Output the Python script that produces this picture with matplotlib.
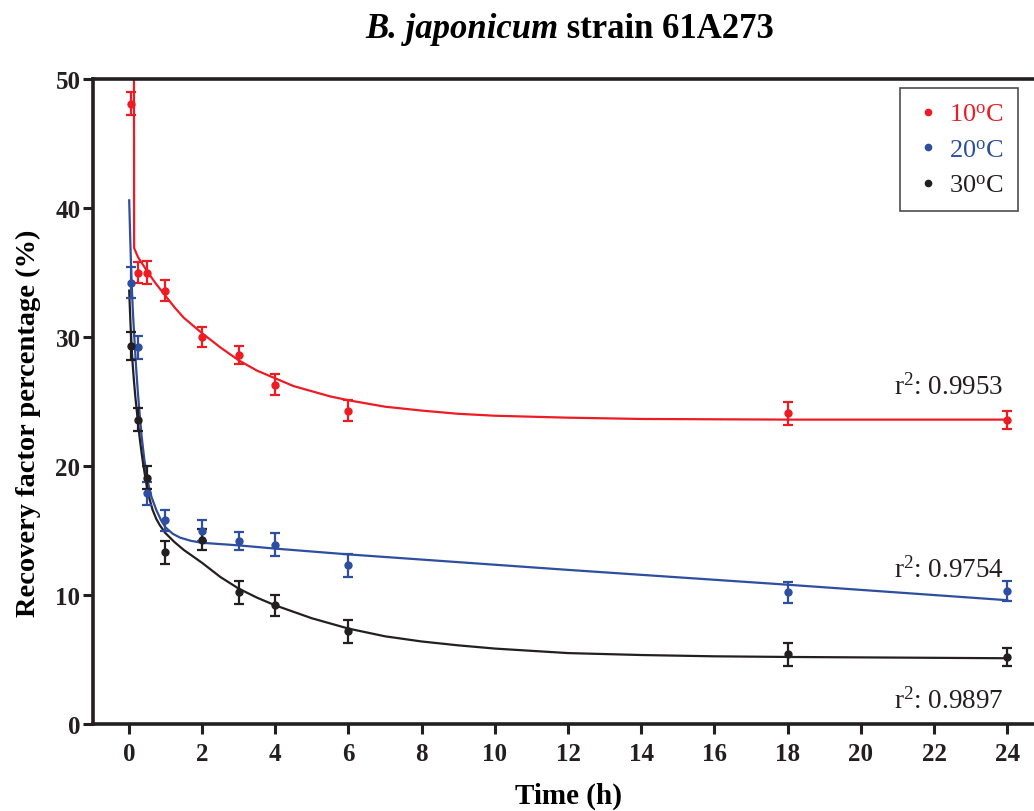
import matplotlib

matplotlib.use("Agg")
import matplotlib.pyplot as plt
from matplotlib.lines import Line2D

RED = "#ed1c24"
BLUE = "#2e4ea0"
BLACK = "#231f20"
SERIF = "Liberation Serif"

plt.rcParams["mathtext.fontset"] = "custom"
plt.rcParams["mathtext.rm"] = SERIF
plt.rcParams["mathtext.it"] = SERIF + ":italic"
plt.rcParams["mathtext.bf"] = SERIF + ":bold"

# measured points (h, %)
time = [0.05, 0.25, 0.5, 1, 2, 3, 4, 6, 18, 24]
y10 = [48.1, 35.0, 35.0, 33.6, 30.0, 28.6, 26.3, 24.3, 24.1, 23.6]
e10 = [0.9, 0.8, 0.9, 0.8, 0.8, 0.7, 0.8, 0.8, 0.9, 0.7]
y20 = [34.2, 29.2, 17.9, 15.8, 15.0, 14.2, 13.9, 12.3, 10.2, 10.3]
e20 = [1.2, 0.9, 0.9, 0.8, 0.8, 0.7, 0.9, 0.9, 0.8, 0.8]
y30 = [29.3, 23.6, 19.1, 13.3, 14.3, 10.2, 9.2, 7.2, 5.4, 5.2]
e30 = [1.1, 0.9, 0.9, 0.9, 0.8, 0.9, 0.8, 0.9, 0.9, 0.7]

# fitted curves
fit10_t = [0.14, 0.145, 0.25, 0.5, 0.75, 1, 1.25, 1.5, 1.75, 2, 2.5, 3, 3.5, 4, 4.5, 5,
           5.5, 6, 7, 8, 9, 10, 12, 14, 18, 24]
fit10_y = [52, 36.9, 36.2, 35.1, 34.1, 33.2, 32.3, 31.5, 30.9, 30.3, 29.2, 28.2, 27.4, 26.8,
           26.2, 25.8, 25.4, 25.1, 24.6, 24.3, 24.05, 23.9, 23.75, 23.65, 23.6, 23.6]
fit20_t = [0.01, 0.04, 0.07, 0.11, 0.16, 0.2, 0.25, 0.3, 0.35, 0.42, 0.5, 0.62, 0.75, 0.88,
           1.0, 1.2, 1.4, 1.7, 2, 2.5, 3, 4, 6, 8, 12, 18, 24]
fit20_y = [40.6, 37.5, 34.7, 32.0, 29.5, 27.6, 25.6, 23.9, 22.3, 20.6, 19.0, 17.6, 16.6, 15.8,
           15.25, 14.75, 14.45, 14.2, 14.05, 13.95, 13.85, 13.6, 13.15, 12.75, 11.95, 10.8, 9.6]
fit30_t = [0.01, 0.04, 0.07, 0.1, 0.14, 0.18, 0.21, 0.26, 0.3, 0.35, 0.39, 0.44, 0.5, 0.57,
           0.65, 0.75, 0.85, 1.0, 1.25, 1.5, 1.75, 2, 2.5, 3, 3.5, 4, 5, 6, 7, 8, 9, 10, 12,
           14, 16, 18, 24]
fit30_y = [33.6, 31.4, 29.5, 28.1, 26.6, 25.3, 24.5, 23.1, 22.1, 21.0, 20.2, 19.3, 18.3, 17.4,
           16.6, 15.9, 15.4, 14.8, 14.1, 13.5, 13.0, 12.5, 11.4, 10.5, 9.8, 9.2, 8.2, 7.4, 6.8,
           6.4, 6.1, 5.85, 5.5, 5.35, 5.25, 5.2, 5.1]

r2_labels = ["0.9953", "0.9754", "0.9897"]
r2_pos = [26.2, 12.0, 1.8]

fig = plt.figure(figsize=(10.34, 8.12), dpi=100)
ax = fig.add_axes([0.0899, 0.1071, 0.9101, 0.7943])

series = [(y10, e10, fit10_t, fit10_y, RED), (y20, e20, fit20_t, fit20_y, BLUE), (y30, e30, fit30_t, fit30_y, BLACK)]
for y, e, ft, fy, c in series:
    ax.plot(ft, fy, color=c, lw=1.6, zorder=2)
    ax.errorbar(time, y, yerr=e, fmt="o", color=c, ms=5, elinewidth=1.6,
                capsize=3.5, capthick=1.6, zorder=3)

for lab, yp in zip(r2_labels, r2_pos):
    ax.text(23.9, yp, "r$^2$: " + lab, ha="right", va="center", fontsize=19.5,
            family=SERIF, color=BLACK)

ax.set_xlim(-0.98, 24.73)
ax.set_ylim(0, 50)
ax.set_xticks(range(0, 25, 2))
ax.set_yticks(range(0, 51, 10))
for sp in ["left", "bottom", "top"]:
    ax.spines[sp].set_linewidth(2.6)
    ax.spines[sp].set_color(BLACK)
ax.spines["right"].set_visible(False)
ax.tick_params(direction="out", length=7, width=2.2, colors=BLACK, labelsize=18)
ax.tick_params(axis="y", pad=2)
ax.tick_params(axis="x", pad=6)
for lbl in ax.get_xticklabels() + ax.get_yticklabels():
    lbl.set_family(SERIF)
    lbl.set_fontweight("bold")

ax.set_xlabel("Time (h)", family=SERIF, fontweight="bold", fontsize=21)
ax.set_ylabel("Recovery factor percentage (%)", family=SERIF, fontweight="bold", fontsize=20.5)
ax.xaxis.set_label_coords(0.505, -0.09)
ax.yaxis.set_label_coords(-0.055, 0.468)

fig.text(0.54, 0.964, "B. japonicum", ha="right", va="center", fontsize=25,
         family=SERIF, fontweight="bold", style="italic")
fig.text(0.54, 0.964, " strain 61A273", ha="left", va="center", fontsize=25,
         family=SERIF, fontweight="bold")

handles = [Line2D([], [], ls="", marker="o", ms=4.5, color=c) for c in [RED, BLUE, BLACK]]
leg = ax.legend(handles, ["10$^\\mathrm{o}$C", "20$^\\mathrm{o}$C", "30$^\\mathrm{o}$C"],
                loc="upper right", bbox_to_anchor=(0.983, 0.986), fancybox=False,
                edgecolor=BLACK, prop={"family": SERIF, "size": 19},
                handletextpad=0.3, handlelength=1.0, borderpad=0.55, labelspacing=0.45,
                borderaxespad=0)
leg.get_frame().set_linewidth(1.2)
for t, c in zip(leg.get_texts(), [RED, BLUE, BLACK]):
    t.set_color(c)

fig.savefig("out.png", dpi=100, facecolor="white")
plt.close()
